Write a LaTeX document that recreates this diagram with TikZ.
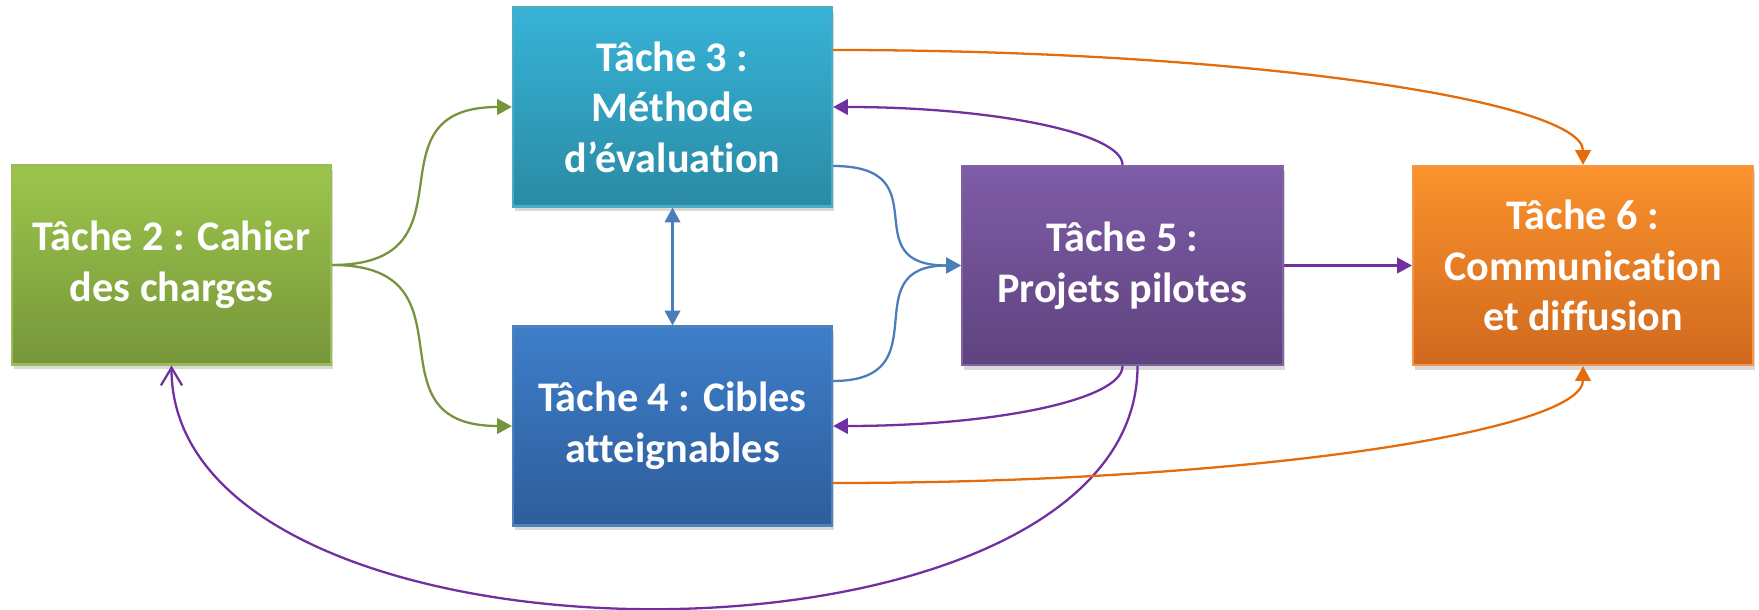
\documentclass[tikz,border=0pt]{standalone}
\usepackage{fontspec}
\setmainfont{Carlito}[RawFeature={-liga;-clig;-calt}]
\usetikzlibrary{arrows.meta,shadows}
\definecolor{vertA}{HTML}{9DC54B}\definecolor{vertB}{HTML}{76963A}\definecolor{vertD}{HTML}{9BBB59}
\definecolor{cyanA}{HTML}{37B3D7}\definecolor{cyanB}{HTML}{2A8AA4}\definecolor{cyanD}{HTML}{4BACC6}
\definecolor{bleuA}{HTML}{3D7EC9}\definecolor{bleuB}{HTML}{2E5D9B}\definecolor{bleuD}{HTML}{4F81BD}
\definecolor{violA}{HTML}{7E5CA7}\definecolor{violB}{HTML}{5F437F}\definecolor{violD}{HTML}{8064A2}
\definecolor{oranA}{HTML}{FA922C}\definecolor{oranB}{HTML}{D0691E}\definecolor{oranD}{HTML}{F79646}
\definecolor{flvert}{HTML}{77933C}\definecolor{flbleu}{HTML}{4A7EBB}
\definecolor{flviol}{HTML}{7030A0}\definecolor{floran}{HTML}{E46C0A}
\begin{document}
\begin{tikzpicture}[
    >={Triangle[length=4.2pt,width=4.4pt]},
    tache/.style={draw=#1, line width=0.6pt, minimum width=3.19cm, minimum height=1.99cm,
        align=center, text=white, font=\fontsize{12}{14.4}\selectfont\bfseries,
        drop shadow={opacity=0.3,shadow xshift=0.6pt,shadow yshift=-1.4pt}},
    fleche/.style={line width=0.65pt, ->},
]
    \useasboundingbox (0,0) rectangle (17.59,-6.10);

    \node[tache=vertD, top color=vertA, bottom color=vertB] (t2) at (1.715,-2.65) {Tâche 2 : Cahier\\des charges};
    \node[tache=cyanD, top color=cyanA, bottom color=cyanB] (t3) at (6.725,-1.07) {Tâche 3 :\\Méthode\\d’évaluation};
    \node[tache=bleuD, top color=bleuA, bottom color=bleuB] (t4) at (6.725,-4.26) {Tâche 4 : Cibles\\atteignables};
    \node[tache=violD, top color=violA, bottom color=violB, minimum width=3.21cm] (t5) at (11.225,-2.655) {Tâche 5 :\\Projets pilotes};
    \node[tache=oranD, top color=oranA, bottom color=oranB, minimum width=3.40cm] (t6) at (15.83,-2.655) {Tâche 6 :\\Communication\\et diffusion};

    \draw[fleche, flvert] (t2.east) .. controls +(1.5,0) and +(-1.5,0) .. (t3.west);
    \draw[fleche, flvert] (t2.east) .. controls +(1.5,0) and +(-1.5,0) .. (t4.west);

    \draw[fleche, flbleu, <->] (t3) -- (t4);
    \draw[fleche, flbleu] ([yshift=-0.59cm]t3.east) .. controls +(1.1,0) and +(-1.1,0) .. (t5.west);
    \draw[fleche, flbleu] ([yshift=0.45cm]t4.east) .. controls +(1.1,0) and +(-1.1,0) .. (t5.west);

    \draw[fleche, flviol] (t5.north) .. controls +(0,0.32) and +(1.6,0) .. (t3.east);
    \draw[fleche, flviol] (t5.south) .. controls +(0,-0.34) and +(1.6,0) .. (t4.east);
    \draw[flviol, line width=0.65pt, -{Straight Barb[length=5pt,width=6pt]}] ([xshift=0.15cm]t5.south) .. controls +(0,-3.24) and +(0,-3.24) .. (t2.south);
    \draw[fleche, flviol] (t5) -- (t6);

    \draw[fleche, floran] ([yshift=0.57cm]t3.east) .. controls +(4.15,0) and +(0,0.64) .. (t6.north);
    \draw[fleche, floran] ([yshift=-0.57cm]t4.east) .. controls +(4.15,0) and +(0,-0.65) .. (t6.south);
\end{tikzpicture}
\end{document}
